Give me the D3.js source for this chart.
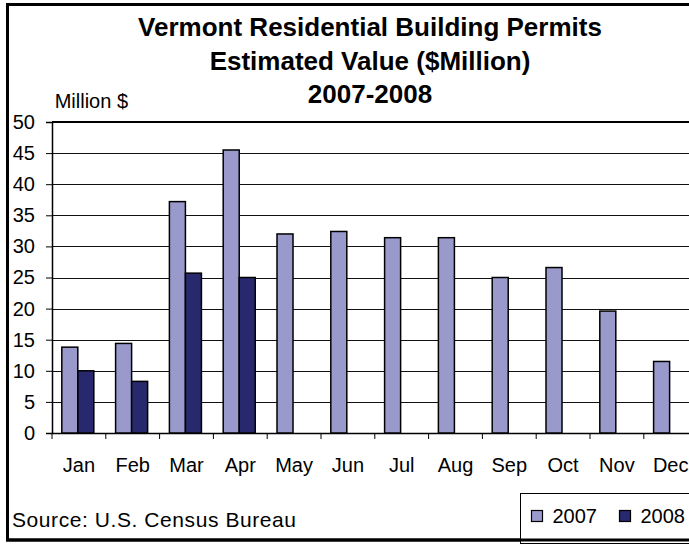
<!DOCTYPE html>
<html>
<head>
<meta charset="utf-8">
<script src="https://cdn.jsdelivr.net/npm/d3@7"></script>
<style>
  body { margin: 0; background: #fff; }
  text { font-family: "Liberation Sans", Arial, sans-serif; fill: #000; }
</style>
</head>
<body>
<svg id="chart" width="689" height="544"></svg>
<script>
// data
const months = ['Jan', 'Feb', 'Mar', 'Apr', 'May', 'Jun', 'Jul', 'Aug', 'Sep', 'Oct', 'Nov', 'Dec'];
const series = ['2007', '2008'];
const values2007 = [13.8, 14.4, 37.2, 45.5, 32.0, 32.4, 31.4, 31.4, 25.0, 26.6, 19.6, 11.5];
const values2008 = [10.0, 8.3, 25.7, 25.0, null, null, null, null, null, null, null, null];
const yTicks = [0, 5, 10, 15, 20, 25, 30, 35, 40, 45, 50];
const titleLines = ['Vermont Residential Building Permits', 'Estimated Value ($Million)', '2007-2008'];
const colors = { '2007': '#9999cc', '2008': '#28286e' };

const svg = d3.select('#chart');
const plotL = 52, plotT = 122, plotB = 433, bandW = 53.8;

svg.append('rect').attr('width', 689).attr('height', 544).attr('fill', '#fff');

// outer frame (right side runs off the picture)
svg.append('rect')
  .attr('x', 7.5).attr('y', 4.5).attr('width', 700).attr('height', 535.5)
  .attr('fill', 'none').attr('stroke', '#000').attr('stroke-width', 3);

// titles
titleLines.forEach((t, i) => {
  svg.append('text')
    .attr('x', 370).attr('y', 36 + i * 33.5)
    .attr('text-anchor', 'middle')
    .attr('font-size', 26).attr('font-weight', 'bold')
    .text(t);
});

svg.append('text')
  .attr('x', 128).attr('y', 108)
  .attr('text-anchor', 'end')
  .attr('font-size', 20)
  .text('Million $');

const x = d3.scaleBand().domain(months).range([plotL, plotL + bandW * 12]);
const xs = d3.scaleBand().domain(series).range([0, x.bandwidth()]).paddingOuter(0.68).align(0.45);
const y = d3.scaleLinear().domain([0, 50]).range([plotB, plotT]);

// gridlines
svg.append('g')
  .selectAll('line')
  .data(yTicks.filter(d => d > 0 && d < 50))
  .join('line')
  .attr('x1', plotL).attr('x2', 700)
  .attr('y1', d => Math.round(y(d)) + 0.5).attr('y2', d => Math.round(y(d)) + 0.5)
  .attr('stroke', '#111').attr('stroke-width', 1);

// plot area top border
svg.append('line')
  .attr('x1', plotL).attr('x2', 700)
  .attr('y1', plotT).attr('y2', plotT)
  .attr('stroke', '#000').attr('stroke-width', 2);

// y axis
const yAxis = svg.append('g')
  .attr('transform', `translate(${plotL},0)`)
  .call(d3.axisLeft(y).tickValues(yTicks).tickSize(6).tickPadding(11));
yAxis.select('.domain').attr('stroke', '#000').attr('stroke-width', 1.5);
yAxis.selectAll('text').attr('font-size', 20).attr('font-family', '"Liberation Sans", Arial, sans-serif');

// x axis
const xAxis = svg.append('g')
  .attr('transform', `translate(0,${plotB})`)
  .call(d3.axisBottom(x).tickSize(0).tickPadding(25));
xAxis.select('.domain').attr('stroke', '#000').attr('stroke-width', 1.5);
xAxis.selectAll('text').attr('font-size', 20).attr('font-family', '"Liberation Sans", Arial, sans-serif');
svg.append('g')
  .selectAll('line')
  .data(months)
  .join('line')
  .attr('x1', d => x(d)).attr('x2', d => x(d))
  .attr('y1', plotB).attr('y2', plotB + 6)
  .attr('stroke', '#000');

// bars
const rows = months.map((m, i) => ({ month: m, vals: [
  { s: '2007', v: values2007[i] },
  { s: '2008', v: values2008[i] }
].filter(d => d.v != null) }));

svg.append('g')
  .selectAll('g')
  .data(rows)
  .join('g')
  .attr('transform', d => `translate(${x(d.month)},0)`)
  .selectAll('rect')
  .data(d => d.vals)
  .join('rect')
  .attr('x', d => xs(d.s))
  .attr('y', d => y(d.v))
  .attr('width', xs.bandwidth())
  .attr('height', d => plotB - y(d.v))
  .attr('fill', d => colors[d.s])
  .attr('stroke', '#000').attr('stroke-width', 1.5);

// source
svg.append('text')
  .attr('x', 12).attr('y', 527)
  .attr('font-size', 21)
  .attr('textLength', 284).attr('lengthAdjust', 'spacing')
  .text('Source: U.S. Census Bureau');

// legend
svg.append('rect')
  .attr('x', 520.5).attr('y', 493.5).attr('width', 200).attr('height', 50)
  .attr('fill', '#fff').attr('stroke', '#000').attr('stroke-width', 1);
const legX = [531.5, 619.5];
series.forEach((s, i) => {
  svg.append('rect')
    .attr('x', legX[i]).attr('y', 510.5).attr('width', 11).attr('height', 11)
    .attr('fill', colors[s]).attr('stroke', '#000').attr('stroke-width', 1.2);
  svg.append('text')
    .attr('x', legX[i] + 21).attr('y', 522.5)
    .attr('font-size', 20)
    .text(s);
});
// redraw frame bottom over legend
svg.append('line')
  .attr('x1', 6).attr('x2', 700).attr('y1', 540).attr('y2', 540)
  .attr('stroke', '#000').attr('stroke-width', 3);
</script>
</body>
</html>
